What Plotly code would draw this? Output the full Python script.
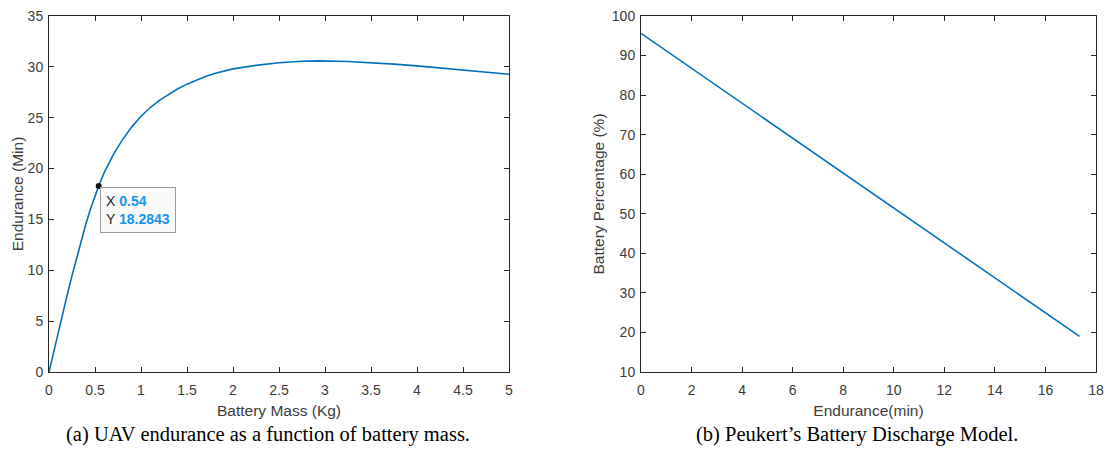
import plotly.graph_objects as go

# ---- data ----
mass_kg = [0, 0.05, 0.1, 0.15, 0.2, 0.25, 0.3, 0.35, 0.4, 0.45, 0.5, 0.54,
           0.6, 0.7, 0.8, 0.9, 1.0, 1.1, 1.2, 1.3, 1.4, 1.5, 1.6, 1.65, 1.7,
           1.8, 1.9, 2.0, 2.25, 2.5, 2.75, 2.93, 3.25, 3.5, 3.75, 4.0, 4.25,
           4.5, 4.75, 5.0]
endurance_min = [0, 1.97, 3.89, 5.78, 7.65, 9.47, 11.24, 12.93, 14.53, 16.01, 17.34,
                 18.2843, 19.6, 21.4, 22.85, 24.1, 25.15, 26.0, 26.7, 27.3, 27.85,
                 28.3, 28.7, 28.88, 29.06, 29.34, 29.58, 29.8, 30.15, 30.4, 30.55,
                 30.59, 30.53, 30.42, 30.27, 30.1, 29.9, 29.7, 29.48, 29.27]
tip_x = [0.54]
tip_y = [18.2843]

discharge_time_min = [0, 17.35]
battery_pct = [95.6, 19.0]

x1_ticks = [0, 0.5, 1, 1.5, 2, 2.5, 3, 3.5, 4, 4.5, 5]
x1_labels = ["0", "0.5", "1", "1.5", "2", "2.5", "3", "3.5", "4", "4.5", "5"]
y1_ticks = [0, 5, 10, 15, 20, 25, 30, 35]
x2_ticks = [0, 2, 4, 6, 8, 10, 12, 14, 16, 18]
y2_ticks = [10, 20, 30, 40, 50, 60, 70, 80, 90, 100]

captions = ["(a) UAV endurance as a function of battery mass.",
            "(b) Peukert\u2019s Battery Discharge Model."]

LINE = "#0072BD"
AX = "#262626"
TICKFONT = dict(family="Liberation Sans, Arial", size=14, color="#3c3c3c")
TITLEFONT = dict(family="Liberation Sans, Arial", size=15.5, color="#3c3c3c")

fig = go.Figure()
fig.add_trace(go.Scatter(x=mass_kg, y=endurance_min, mode="lines",
                         line=dict(color=LINE, width=1.6),
                         xaxis="x", yaxis="y", showlegend=False))
fig.add_trace(go.Scatter(x=tip_x, y=tip_y, mode="markers",
                         marker=dict(color="#111111", size=6),
                         xaxis="x", yaxis="y", showlegend=False))
fig.add_trace(go.Scatter(x=discharge_time_min, y=battery_pct, mode="lines",
                         line=dict(color=LINE, width=1.6),
                         xaxis="x2", yaxis="y2", showlegend=False))

# the page body has an 8px margin on every side; size the figure to fit inside it
OFF = 8
W, H = 1115 - 2 * OFF, 455 - 2 * OFF
def fx(px):
    return (px - OFF) / W
def fy(py):
    return 1 - (py - OFF) / H

TOP, BOT = 16, 372

common_axis = dict(showline=True, linecolor=AX, linewidth=1, mirror="ticks",
                   ticks="inside", ticklen=5, tickcolor=AX, tickwidth=1,
                   showgrid=False, zeroline=False, tickfont=TICKFONT,
                   automargin=False, ticklabeloverflow="allow")

fig.update_layout(
    width=W, height=H,
    margin=dict(l=0, r=0, t=0, b=0),
    paper_bgcolor="white", plot_bgcolor="white",
    xaxis=dict(domain=[fx(49), fx(509)], range=[0, 5], tickvals=x1_ticks,
               ticktext=x1_labels, anchor="y", ticklabelstandoff=5,
               title=dict(text="Battery Mass (Kg)", font=TITLEFONT, standoff=8),
               **common_axis),
    yaxis=dict(domain=[fy(BOT), fy(TOP)], range=[0, 35], tickvals=y1_ticks,
               anchor="x", ticklabelstandoff=2,
               title=dict(text="Endurance (Min)", font=TITLEFONT, standoff=0),
               **common_axis),
    xaxis2=dict(domain=[fx(641), fx(1096)], range=[0, 18], tickvals=x2_ticks,
                anchor="y2", ticklabelstandoff=5,
                title=dict(text="Endurance(min)", font=TITLEFONT, standoff=8),
                **common_axis),
    yaxis2=dict(domain=[fy(BOT), fy(TOP)], range=[10, 100], tickvals=y2_ticks,
                anchor="x2", ticklabelstandoff=2,
                title=dict(text="Battery Percentage (%)", font=TITLEFONT, standoff=3),
                **common_axis),
)

tipcol = "#1296ee"
fig.add_annotation(
    x=tip_x[0], y=tip_y[0], xref="x", yref="y",
    text=(f"X <b><span style='color:{tipcol}'>{tip_x[0]:g}</span></b><br>"
          f"Y <b><span style='color:{tipcol}'>{tip_y[0]:g}</span></b>"),
    showarrow=False, xanchor="left", yanchor="top", align="left",
    xshift=1, yshift=-1,
    font=dict(family="Liberation Sans, Arial", size=14, color=AX),
    bgcolor="rgba(250,250,250,0.95)", bordercolor="#9a9a9a", borderwidth=1,
    borderpad=5,
)

for cx, txt in zip([268, 857], captions):
    fig.add_annotation(x=fx(cx), y=fy(434), xref="paper", yref="paper",
                       text=txt, showarrow=False, xanchor="center", yanchor="middle",
                       font=dict(family="Liberation Serif, Times New Roman", size=20.5,
                                 color="black"))

fig.write_html("out.html")
